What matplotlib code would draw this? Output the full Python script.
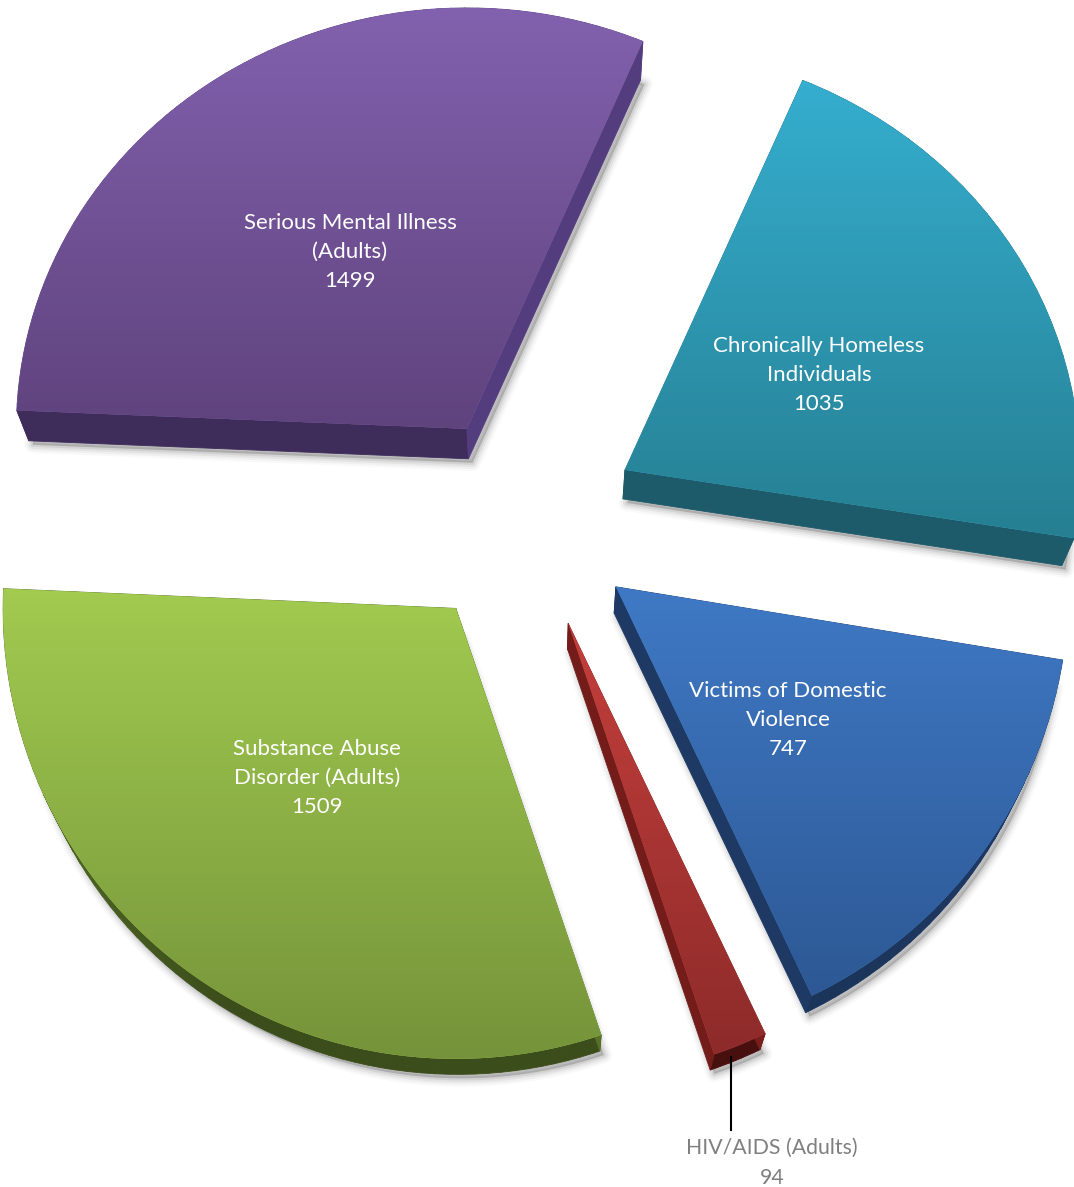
import numpy as np
import matplotlib
matplotlib.use("Agg")
import matplotlib.pyplot as plt
from matplotlib.colors import LinearSegmentedColormap, to_rgb
from matplotlib.transforms import Affine2D

# Dados (ordem horaria a partir do setor azul-petroleo)
categorias = ["Chronically Homeless\nIndividuals", "Victims of Domestic\nViolence",
              "HIV/AIDS (Adults)", "Substance Abuse\nDisorder (Adults)",
              "Serious Mental Illness\n(Adults)"]
valores = [1035, 747, 94, 1509, 1499]

# Estilo de cada setor
explode = [103.4, 94.8, 97.4, 111.8, 124.6]
esc_x = [1.0, 0.995, 1.0, 0.995, 0.99]
esc_y = [0.93, 0.997, 1.0, 0.99, 0.925]
ajuste = [(-5.6, 10.2), (0, 0), (-8.6, -3.3), (-17, 11), (-6.7, -4.2)]
cor_topo = ["#35aecf", "#3f79c5", "#c43f3c", "#a2cb50", "#8261ae"]
cor_base = ["#267f92", "#2d5894", "#8d2b2a", "#75933a", "#5f437d"]
cor_lado = ["#237083", "#1d3a68", "#7a1e1c", "#56702a", "#5b4288"]
cor_fundo = ["#1d5a6a", "#1b3459", "#470f0d", "#3b4d1a", "#3e2c5a"]
pos_texto = [(819, 375), (788, 720), (772, 1163), (317, 778), (350, 252)]
tam_texto = [16, 16, 15.3, 16, 16]

W, H = 1074, 1187
fig = plt.figure(figsize=(W / 100, H / 100), dpi=100)
ax = fig.add_axes([0, 0, 1, 1])

wedges, _ = ax.pie(valores, explode=explode, startangle=67, counterclock=False,
                   colors=cor_topo, center=(540, H - 530), radius=455)
ax.set_aspect("auto")
ax.set_xlim(0, W)
ax.set_ylim(0, H)

# face inferior = face superior reduzida em direcao ao ponto de fuga
fuga = Affine2D().translate(-540, 545).scale(0.977).translate(540, -545)

for i, w in enumerate(wedges):
    cx, cy = w.center
    tr = (Affine2D().translate(-cx, -cy).scale(esc_x[i], esc_y[i])
          .translate(cx + ajuste[i][0], cy + ajuste[i][1]))
    w.set_transform(tr + ax.transData)
    w.set_zorder(2)
    w.set_linewidth(0)

    topo = tr.transform(w.get_path().to_polygons()[0])
    fundo = fuga.transform(topo)
    centro = topo.mean(axis=0)

    # sombra
    for lw, a in [(12, 0.025), (9, 0.035), (6, 0.05), (3, 0.07)]:
        ax.fill(fundo[:, 0] + 4, fundo[:, 1] - 4, color="#000000", alpha=a,
                lw=lw, joinstyle="round", zorder=0)

    # paredes: tom depende da direcao da aresta
    c_lado = np.array(to_rgb(cor_lado[i]))
    c_fundo = np.array(to_rgb(cor_fundo[i]))
    for k in range(len(topo) - 1):
        a, b = topo[k], topo[k + 1]
        if np.allclose(a, b):
            continue
        d = b - a
        n = np.array([d[1], -d[0]]) / np.hypot(*d)
        if np.dot(n, (a + b) / 2 - centro) < 0:
            n = -n
        t = np.clip(-n[1] * 1.15, 0, 1) ** 2
        quad = np.array([a, b, fundo[k + 1], fundo[k]])
        cor = c_lado * (1 - t) + c_fundo * t
        ax.fill(quad[:, 0], quad[:, 1], color=cor, lw=0.6, joinstyle="round", zorder=1)

    # gradiente vertical da face superior
    cmap = LinearSegmentedColormap.from_list("g", [cor_base[i], cor_topo[i]], N=512)
    y0, y1 = topo[:, 1].min(), topo[:, 1].max()
    x0, x1 = topo[:, 0].min(), topo[:, 0].max()
    im = ax.imshow(np.linspace(1, 0, 512).reshape(-1, 1), cmap=cmap, vmin=0, vmax=1,
                   extent=(x0, x1, y0, y1), aspect="auto", zorder=3,
                   interpolation="bilinear")
    im.set_clip_path(w)

    # rotulos
    cor_txt = "#7f7f7f" if valores[i] == 94 else "white"
    ax.text(pos_texto[i][0], H - pos_texto[i][1], f"{categorias[i]}\n{valores[i]}",
            ha="center", va="center", color=cor_txt, fontsize=tam_texto[i], family="Lato",
            linespacing=1.59, zorder=5)

ax.set_xlim(0, W)
ax.set_ylim(0, H)

# linha de chamada do HIV/AIDS
ax.plot([731, 731], [H - 1057, H - 1130], color="black", lw=1.5, zorder=4)

plt.savefig("out.png", dpi=100)
plt.close()
